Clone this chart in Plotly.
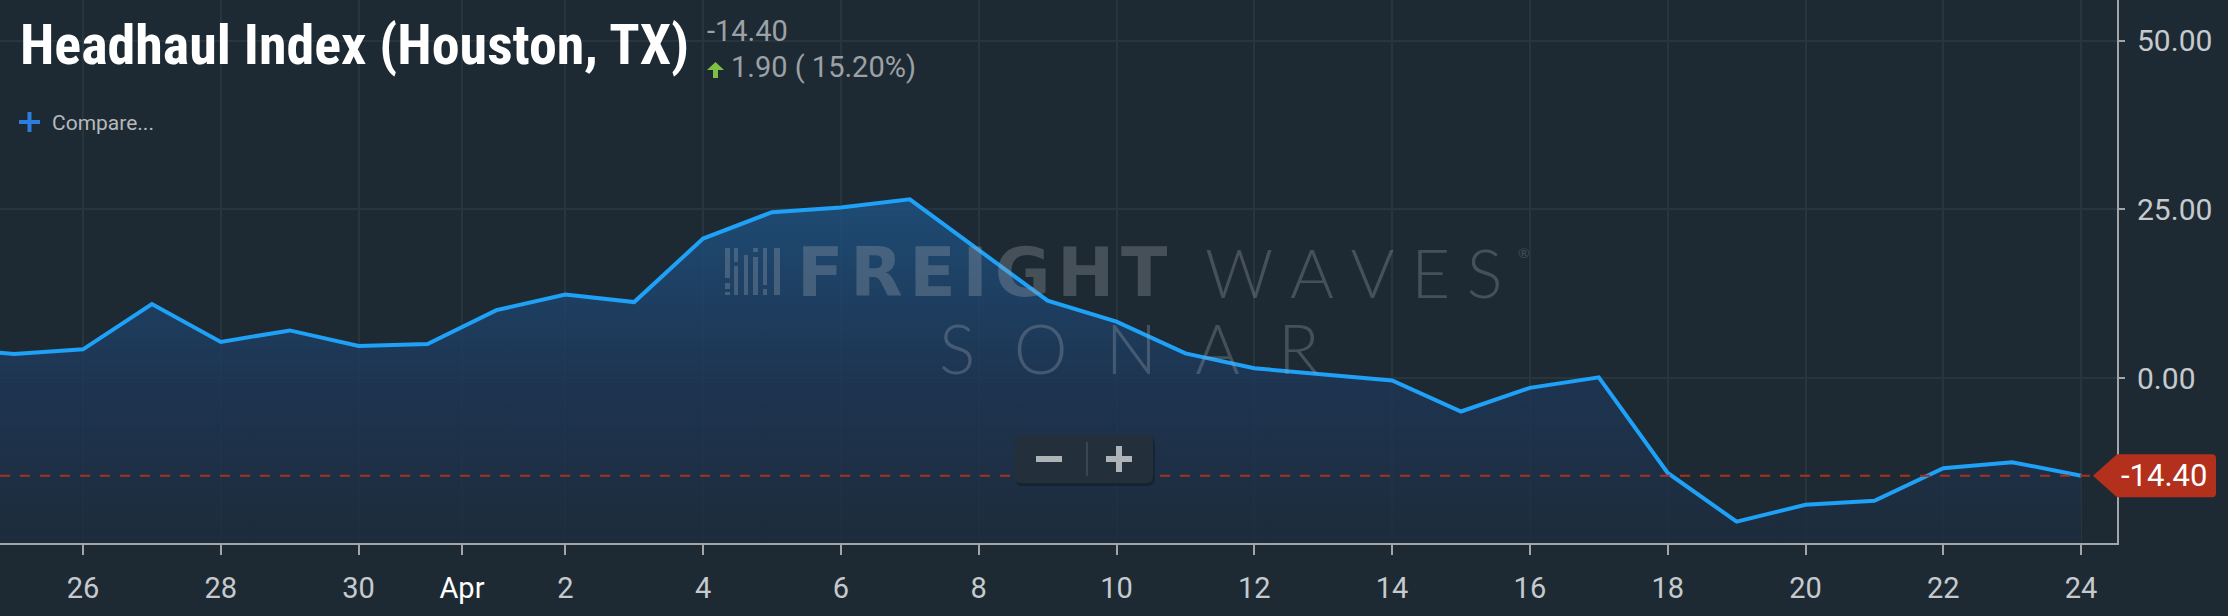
import plotly.graph_objects as go

# ---------------- data ----------------
DATES = [
    "2020-03-24", "2020-03-25", "2020-03-26", "2020-03-27", "2020-03-28", "2020-03-29", "2020-03-30",
    "2020-03-31",
    "2020-04-01", "2020-04-02", "2020-04-03", "2020-04-04", "2020-04-05", "2020-04-06", "2020-04-07",
    "2020-04-08", "2020-04-09", "2020-04-10", "2020-04-11", "2020-04-12", "2020-04-13", "2020-04-14",
    "2020-04-15", "2020-04-16", "2020-04-17", "2020-04-18", "2020-04-19", "2020-04-20", "2020-04-21",
    "2020-04-22", "2020-04-23", "2020-04-24",
]
VALUES = [
    4.5, 3.6, 4.3, 11.0, 5.4, 7.1, 4.8,
    5.1,
    10.1, 12.4, 11.3, 20.7, 24.6, 25.3, 26.5,
    19.0, 11.5, 8.4, 3.7, 1.5, 0.65, -0.3,
    -4.9, -1.4, 0.15, -14.0, -21.2, -18.7, -18.1,
    -13.3, -12.4, -14.4,
]
TICK_DATES = ["2020-03-26", "2020-03-28", "2020-03-30", "2020-03-31 12:00", "2020-04-02",
              "2020-04-04", "2020-04-06", "2020-04-08", "2020-04-10", "2020-04-12",
              "2020-04-14", "2020-04-16", "2020-04-18", "2020-04-20", "2020-04-22", "2020-04-24"]
TICK_LABELS = ["26", "28", "30", "Apr", "2", "4", "6", "8", "10", "12",
               "14", "16", "18", "20", "22", "24"]
Y_TICKS = [50, 25, 0, -25]
TITLE = "Headhaul Index (Houston, TX)"
CHANGE_TEXT = "1.90 ( 15.20%)"
X_RANGE = ["2020-03-24 19:05", "2020-04-24 12:30"]
Y_MIN, Y_MAX = -24.36, 56.0

# ---------------- style ----------------
BG = "#1e2a33"
LINE_C = "#1ea1f7"
GRID_C = "#27353f"
AXIS_C = "#a3a6a9"
TICK_FONT_C = "#c6cace"
RED = "#b3301d"
WM = "rgba(165,170,178,0.30)"
TITLE_FONT = "Liberation Sans Narrow, Roboto Condensed, DejaVu Sans Condensed, Roboto"

W, H = 2228, 616
PLOT_W, PLOT_H = 2117, 543


def px(x):
    return x / PLOT_W


def py(y):
    return (PLOT_H - y) / PLOT_H


last = VALUES[-1]
last_txt = f"{last:.2f}"

fig = go.Figure()
fig.add_trace(go.Scatter(x=DATES, y=[Y_MIN] * len(DATES), mode="lines",
                         line=dict(width=0, color="rgba(0,0,0,0)"),
                         hoverinfo="skip", showlegend=False))
fig.add_trace(go.Scatter(
    x=DATES, y=VALUES, mode="lines", fill="tonexty",
    line=dict(color=LINE_C, width=4),
    fillgradient=dict(type="vertical", colorscale=[
        [0.0, "rgba(29,44,61,0.82)"],
        [0.45, "rgba(29,54,86,0.82)"],
        [1.0, "rgba(30,82,130,0.82)"],
    ]),
    showlegend=False, hoverinfo="skip"))

shapes = []
annotations = []

# last-value dashed line
shapes.append(dict(type="line", xref="paper", yref="y", x0=0, x1=1, y0=last, y1=last,
                   line=dict(color="#a8301f", width=2, dash="10px,10px"), layer="above"))
# value tag
shapes.append(dict(type="path", xref="paper", yref="y", xsizemode="pixel", ysizemode="pixel",
                   xanchor=1, yanchor=last,
                   path="M -24,0 L 0,21.5 L 95,21.5 Q 99,21.5 99,17.5 L 99,-17.5 Q 99,-21.5 95,-21.5 L 0,-21.5 Z",
                   fillcolor=RED, line=dict(width=0), layer="above"))
annotations.append(dict(xref="paper", yref="y", x=1, y=last, xanchor="left", yanchor="middle",
                        xshift=2, text=last_txt, showarrow=False,
                        font=dict(family="Roboto", size=31, color="#ffffff")))


def rect(x0, y0, x1, y1, color, layer="above"):
    return dict(type="rect", xref="paper", yref="paper", x0=px(x0), x1=px(x1), y0=py(y1), y1=py(y0),
                fillcolor=color, line=dict(width=0), layer=layer)


def rrect_path(x0, y0, x1, y1, r):
    X0, X1 = px(x0), px(x1)
    Y0, Y1 = py(y1), py(y0)
    rx, ry = r / PLOT_W, r / PLOT_H
    return (f"M {X0+rx},{Y0} L {X1-rx},{Y0} Q {X1},{Y0} {X1},{Y0+ry} L {X1},{Y1-ry} "
            f"Q {X1},{Y1} {X1-rx},{Y1} L {X0+rx},{Y1} Q {X0},{Y1} {X0},{Y1-ry} L {X0},{Y0+ry} "
            f"Q {X0},{Y0} {X0+rx},{Y0} Z")


# zoom buttons box
shapes.append(dict(type="path", xref="paper", yref="paper", path=rrect_path(1015, 437, 1155, 486, 8),
                   fillcolor="rgba(10,16,22,0.35)", line=dict(width=0), layer="above"))
shapes.append(dict(type="path", xref="paper", yref="paper", path=rrect_path(1014, 435, 1153, 483, 7),
                   fillcolor="#232f3a", line=dict(width=0), layer="above"))
shapes.append(rect(1036, 456, 1062, 462, "#aeb3b8"))
shapes.append(rect(1106, 456, 1132, 462, "#aeb3b8"))
shapes.append(rect(1116, 446, 1122, 472, "#aeb3b8"))
shapes.append(rect(1086, 442, 1088, 476, "#3a4652"))

# header: green arrow and blue plus
shapes.append(dict(type="path", xref="paper", yref="paper",
                   path=(f"M {px(707)},{py(70)} L {px(715.5)},{py(62)} L {px(724)},{py(70)} "
                         f"L {px(718)},{py(70)} L {px(718)},{py(78)} L {px(713)},{py(78)} "
                         f"L {px(713)},{py(70)} Z"),
                   fillcolor="#7cc142", line=dict(width=0), layer="above"))
shapes.append(rect(19, 120, 40, 124, "#2b7de0"))
shapes.append(rect(27.5, 112, 31.5, 132, "#2b7de0"))

# watermark logo bars
bars = [(725, 730, [(248, 278), (283, 289), (292, 295)]),
        (734, 738, [(248, 262), (266, 295)]),
        (744, 748, [(255, 295)]),
        (753, 758, [(248, 252), (257, 295)]),
        (763, 767, [(248, 285), (289, 295)]),
        (774, 780, [(248, 295)])]
for x0, x1, segs in bars:
    for y0, y1 in segs:
        shapes.append(rect(x0, y0, x1, y1, WM))

HS = "\u200a"
TS = "\u2009"
annotations += [
    dict(xref="paper", yref="paper", x=px(18), y=py(45), xanchor="left", yanchor="middle",
         text=TITLE, showarrow=False,
         font=dict(family=TITLE_FONT, size=56, color="#ffffff", weight=700)),
    dict(xref="paper", yref="paper", x=px(705), y=py(31), xanchor="left", yanchor="middle",
         text=last_txt, showarrow=False,
         font=dict(family="Roboto", size=29, color="#9ca1a6")),
    dict(xref="paper", yref="paper", x=px(729), y=py(67), xanchor="left", yanchor="middle",
         text=CHANGE_TEXT, showarrow=False,
         font=dict(family="Roboto", size=29, color="#9ca1a6")),
    dict(xref="paper", yref="paper", x=px(50), y=py(123), xanchor="left", yanchor="middle",
         text="Compare...", showarrow=False,
         font=dict(family="Roboto", size=21, color="#b5b9bd")),
    # watermark text
    dict(xref="paper", yref="paper", x=px(795), y=py(272), xanchor="left", yanchor="middle",
         text=HS.join("FREIGHT"), showarrow=False,
         font=dict(family="DejaVu Sans", size=68, color=WM, weight=700)),
    dict(xref="paper", yref="paper", x=px(1203), y=py(272), xanchor="left", yanchor="middle",
         text=(TS * 2).join("WAVES"), showarrow=False,
         font=dict(family="Lato", size=67, color=WM, weight=300)),
    dict(xref="paper", yref="paper", x=px(1516), y=py(252), xanchor="left", yanchor="middle",
         text="®", showarrow=False,
         font=dict(family="Lato", size=14, color=WM)),
    dict(xref="paper", yref="paper", x=px(937), y=py(348), xanchor="left", yanchor="middle",
         text=("\u2002\u200a").join("SONAR"), showarrow=False,
         font=dict(family="Lato", size=68, color=WM, weight=300)),
]

fig.update_layout(
    width=W, height=H,
    margin=dict(l=0, r=W - PLOT_W, t=0, b=H - PLOT_H, pad=0),
    paper_bgcolor=BG, plot_bgcolor=BG,
    shapes=shapes, annotations=annotations,
    showlegend=False, hovermode=False,
    xaxis=dict(type="date", range=X_RANGE, tickmode="array", tickvals=TICK_DATES,
               ticktext=[f'<span style="color:#ffffff">{t}</span>' if t == "Apr" else t for t in TICK_LABELS],
               showgrid=True, gridcolor=GRID_C, gridwidth=1.5,
               showline=True, linecolor=AXIS_C, linewidth=2,
               ticks="outside", ticklen=10, tickwidth=1.5, tickcolor=AXIS_C,
               tickfont=dict(family="Roboto", size=29, color=TICK_FONT_C),
               ticklabelstandoff=8, zeroline=False, fixedrange=True),
    yaxis=dict(side="right", range=[Y_MIN, Y_MAX], tickmode="array", tickvals=Y_TICKS,
               ticktext=[f"{v:.2f}" for v in Y_TICKS],
               showgrid=True, gridcolor=GRID_C, gridwidth=1.5,
               showline=True, linecolor=AXIS_C, linewidth=2,
               ticks="outside", ticklen=6, tickwidth=1.5, tickcolor=AXIS_C,
               tickfont=dict(family="Roboto", size=30, color=TICK_FONT_C),
               ticklabelstandoff=6, zeroline=False, fixedrange=True),
)

fig.write_html("out.html", config={"displayModeBar": False},
               post_script="document.body.style.margin='0';document.body.style.overflow='hidden';")
